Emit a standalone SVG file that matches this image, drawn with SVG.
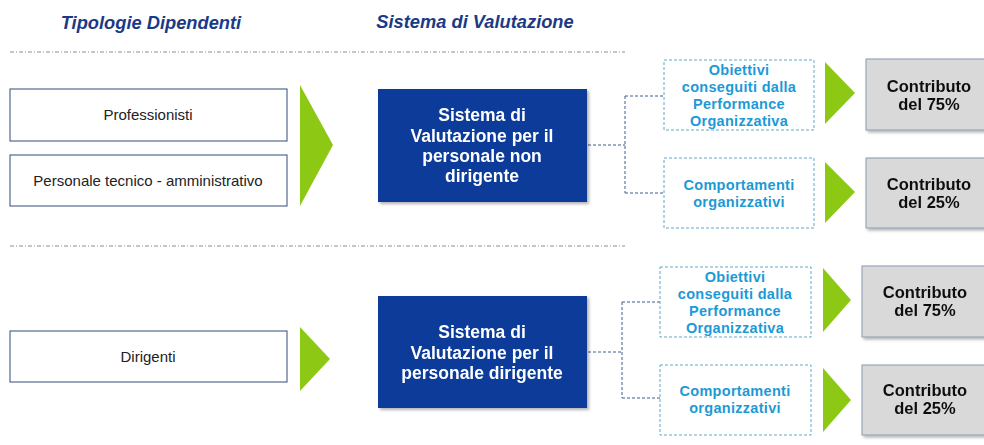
<svg xmlns="http://www.w3.org/2000/svg" width="984" height="445" viewBox="0 0 984 445">
<defs>
<style>
.hdr{font-family:"Liberation Sans",Arial,sans-serif;font-weight:bold;font-style:italic;font-size:18.3px;fill:#1B3A86;text-anchor:middle}
.sep{stroke:#8A8F99;stroke-width:1;stroke-dasharray:4 2 1 2;fill:none}
.wbox{fill:#fff;stroke:#2E4A7A;stroke-width:1}
.wt{font-family:"Liberation Sans",Arial,sans-serif;font-size:15px;fill:#222;text-anchor:middle}
.tri{fill:#8CC814}
.bbox{fill:#0A3A99}
.bt{font-family:"Liberation Sans",Arial,sans-serif;font-weight:bold;font-size:17.5px;fill:#fff;text-anchor:middle}
.dbox{fill:#fff;stroke:#5FA8C8;stroke-width:1;stroke-dasharray:3 2}
.dt{font-family:"Liberation Sans",Arial,sans-serif;font-weight:bold;font-size:14.5px;letter-spacing:0.3px;fill:#1C9AD6;text-anchor:middle}
.gbox{fill:#D9D9D9;stroke:#8A9AB5;stroke-width:1}
.gt{font-family:"Liberation Sans",Arial,sans-serif;font-weight:bold;font-size:16.5px;fill:#111;text-anchor:middle}
.con{stroke:#3E5A8A;stroke-width:1;stroke-dasharray:3 2;fill:none}
</style>
<filter id="sh" x="-10%" y="-10%" width="125%" height="125%">
<feDropShadow dx="2" dy="2" stdDeviation="1.5" flood-color="#000" flood-opacity="0.3"/>
</filter>
</defs>
<rect width="984" height="445" fill="#fff"/>
<g id="headers">
<text class="hdr" x="151" y="29">Tipologie Dipendenti</text>
<text class="hdr" x="475" y="28">Sistema di Valutazione</text>
</g>
<g id="separators">
<line class="sep" x1="10" y1="52" x2="625" y2="52"/>
<line class="sep" x1="10" y1="246" x2="625" y2="246"/>
</g>
<g id="connectors">
<path class="con" d="M588 145 H625 M625 96 V193 M625 96 H664 M625 193 H664"/>
<path class="con" d="M588 352 H622 M622 302 V398 M622 302 H660 M622 398 H660"/>
</g>
<g id="professionisti"><rect class="wbox" x="10" y="89" width="277" height="52"/><text class="wt" x="148" y="120">Professionisti</text></g>
<g id="personale"><rect class="wbox" x="10" y="155" width="277" height="51"/><text class="wt" x="148" y="186">Personale tecnico - amministrativo</text></g>
<g id="dirigenti"><rect class="wbox" x="10" y="331" width="277" height="51"/><text class="wt" x="148" y="362">Dirigenti</text></g>
<g id="arrow1"><polygon class="tri" points="300,85 333,145 300,206"/></g>
<g id="arrow2"><polygon class="tri" points="300,327 330,359 300,391"/></g>
<g id="sistema-non-dirigente" filter="url(#sh)">
<rect class="bbox" x="378" y="89" width="209" height="113"/>
<text class="bt" x="482" y="121">Sistema di</text>
<text class="bt" x="482" y="142">Valutazione per il</text>
<text class="bt" x="482" y="162">personale non</text>
<text class="bt" x="482" y="182">dirigente</text>
</g>
<g id="sistema-dirigente" filter="url(#sh)">
<rect class="bbox" x="378" y="296" width="209" height="112"/>
<text class="bt" x="482" y="338">Sistema di</text>
<text class="bt" x="482" y="359">Valutazione per il</text>
<text class="bt" x="482" y="379">personale  dirigente</text>
</g>
<g id="obiettivi1">
<rect class="dbox" x="664" y="60" width="150" height="70"/>
<text class="dt" x="739" y="75">Obiettivi</text>
<text class="dt" x="739" y="92">conseguiti dalla</text>
<text class="dt" x="739" y="109">Performance</text>
<text class="dt" x="739" y="126">Organizzativa</text>
</g>
<g id="comportamenti1">
<rect class="dbox" x="664" y="158" width="150" height="70"/>
<text class="dt" x="739" y="190">Comportamenti</text>
<text class="dt" x="739" y="207">organizzativi</text>
</g>
<g id="obiettivi2">
<rect class="dbox" x="660" y="267" width="151" height="70"/>
<text class="dt" x="735" y="282">Obiettivi</text>
<text class="dt" x="735" y="299">conseguiti dalla</text>
<text class="dt" x="735" y="316">Performance</text>
<text class="dt" x="735" y="333">Organizzativa</text>
</g>
<g id="comportamenti2">
<rect class="dbox" x="660" y="365" width="151" height="70"/>
<text class="dt" x="735" y="396">Comportamenti</text>
<text class="dt" x="735" y="413">organizzativi</text>
</g>
<g id="tri3"><polygon class="tri" points="825,62 855,93 825,124"/></g>
<g id="tri4"><polygon class="tri" points="825,162 855,192 825,223"/></g>
<g id="tri5"><polygon class="tri" points="823,268 851,300 823,332"/></g>
<g id="tri6"><polygon class="tri" points="823,368 851,400 823,432"/></g>
<g id="contributo75a" filter="url(#sh)"><rect class="gbox" x="866" y="59" width="122" height="71"/><text class="gt" x="929" y="92">Contributo</text><text class="gt" x="929" y="110">del 75%</text></g>
<g id="contributo25a" filter="url(#sh)"><rect class="gbox" x="866" y="158" width="122" height="70"/><text class="gt" x="929" y="190">Contributo</text><text class="gt" x="929" y="208">del 25%</text></g>
<g id="contributo75b" filter="url(#sh)"><rect class="gbox" x="862" y="266" width="126" height="71"/><text class="gt" x="925" y="298">Contributo</text><text class="gt" x="925" y="316">del 75%</text></g>
<g id="contributo25b" filter="url(#sh)"><rect class="gbox" x="862" y="365" width="126" height="70"/><text class="gt" x="925" y="396">Contributo</text><text class="gt" x="925" y="414">del 25%</text></g>
</svg>
